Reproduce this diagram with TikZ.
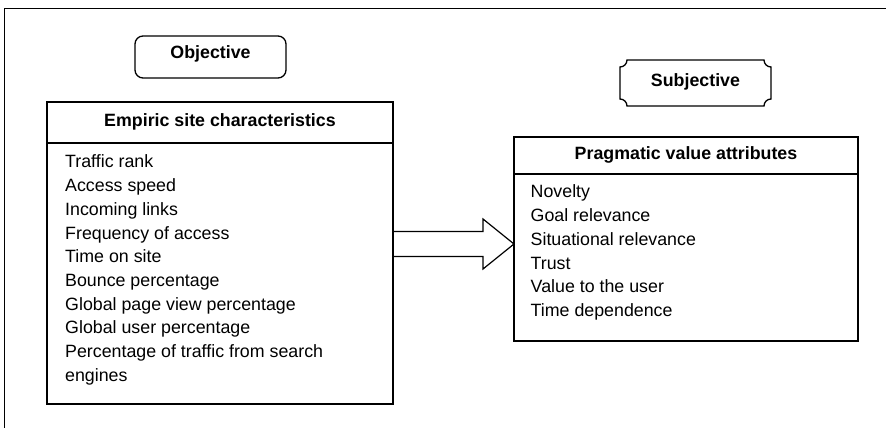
\documentclass[tikz,border=0pt]{standalone}
\usepackage{fontspec}
\setmainfont{Liberation Sans}
\usetikzlibrary{calc}
\begin{document}
\begin{tikzpicture}[x=1pt,y=1pt]
\useasboundingbox (0,0) rectangle (886,428);
\tikzset{
  framelines/.style={line width=1pt},
  boxline/.style={draw, line width=1.3pt, inner sep=0pt, outer sep=0pt},
  hdr/.style={font=\fontsize{17.8}{20}\selectfont\bfseries, inner sep=0pt},
  item/.style={font=\fontsize{17.8}{20}\selectfont, inner sep=0pt, anchor=base west},
  bigarrow/.style={line width=1.2pt, line join=miter}
}
% outer frame (top and left only)
\coordinate (fa) at (4,0);
\coordinate (fb) at (4,419);
\coordinate (fc) at (886,419);
\draw[framelines] (fa) -- (fb) -- (fc);

% Objective
\node[boxline, rounded corners=8pt, minimum width=151pt, minimum height=42pt] (obj) at (210.5,371) {};
\node[hdr] (objt) at (210.5,374) {Objective};

% Subjective (plaque with concave corners)
\coordinate (sbl) at (620,322);
\coordinate (str) at (771,368);
\draw[line width=1.3pt] (627,368) -- (764,368)
  arc[start angle=180,end angle=270,radius=7] -- (771,329)
  arc[start angle=90,end angle=180,radius=7] -- (627,322)
  arc[start angle=0,end angle=90,radius=7] -- (620,361)
  arc[start angle=270,end angle=360,radius=7] -- cycle;
\node[hdr] (subt) at (695.5,346) {Subjective};

% Empiric site characteristics
\node[boxline, minimum width=346pt, minimum height=302pt] (emp) at (220,175) {};
\coordinate (empsepl) at (47,285);
\coordinate (empsepr) at (393,285);
\draw[line width=1.3pt] (empsepl) -- (empsepr);
\node[hdr] (empt) at (220,306) {Empiric site characteristics};
\foreach \t [count=\i from 0] in {Traffic rank, Access speed, Incoming links, Frequency of access, Time on site, Bounce percentage, Global page view percentage, Global user percentage, Percentage of traffic from search, engines}
  \node[item] (e\i) at (65,{428-168-23.7*\i}) {\t};

% Pragmatic value attributes
\node[boxline, minimum width=344pt, minimum height=204pt] (prag) at (686,189) {};
\coordinate (prsepl) at (514,254);
\coordinate (prsepr) at (858,254);
\draw[line width=1.3pt] (prsepl) -- (prsepr);
\node[hdr] (pragt) at (686,273) {Pragmatic value attributes};
\foreach \t [count=\i from 0] in {Novelty, Goal relevance, Situational relevance, Trust, Value to the user, Time dependence}
  \node[item] (p\i) at (530.5,{428-198-23.7*\i}) {\t};

% Block arrow
\coordinate (as) at (emp.east |- 0,184);
\coordinate (tip) at (prag.west |- as);
\draw[bigarrow] ($(as)+(0,12.5)$) -- ($(tip)+(-31,12.5)$) -- ($(tip)+(-31,25)$) -- (tip)
  -- ($(tip)+(-31,-25)$) -- ($(tip)+(-31,-12.5)$) -- ($(as)+(0,-12.5)$);
\end{tikzpicture}
\end{document}
